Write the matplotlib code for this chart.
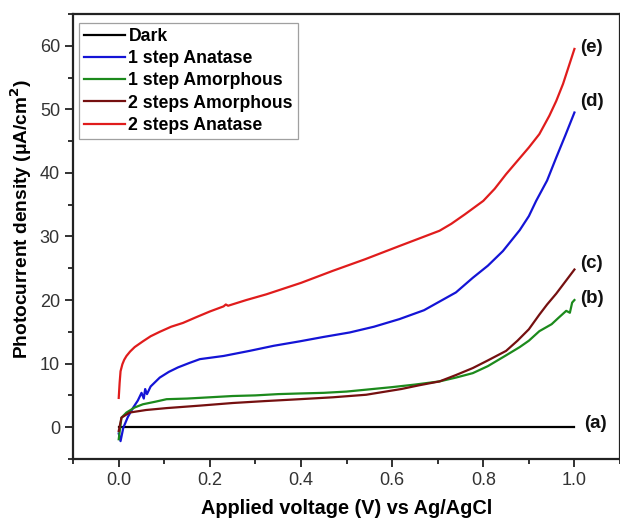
import numpy as np
import matplotlib
matplotlib.use("Agg")
import matplotlib.pyplot as plt
from matplotlib.ticker import MultipleLocator, FormatStrFormatter

plt.rcParams["font.family"] = ["Liberation Sans", "DejaVu Sans"]

# ─── Data (potential in V vs Ag/AgCl, current in µA/cm²) ────────────────────
V_DARK = [0.0, 1.0]
J_DARK = [0.0, 0.0]

V_ANA1 = [0.0, 0.004, 0.01, 0.02, 0.031, 0.042, 0.05, 0.055, 0.058, 0.062, 0.07,
          0.09, 0.11, 0.13, 0.155, 0.178, 0.23, 0.287, 0.34, 0.397, 0.45, 0.507,
          0.56, 0.616, 0.67, 0.70, 0.74, 0.777, 0.81, 0.843, 0.88, 0.90, 0.916,
          0.94, 0.96, 0.98, 1.0]
J_ANA1 = [-1.0, -2.2, -0.1, 1.6, 3.0, 4.2, 5.4, 4.5, 6.0, 5.2, 6.4,
          7.8, 8.7, 9.4, 10.1, 10.7, 11.2, 12.0, 12.8, 13.5, 14.2, 14.9,
          15.8, 17.0, 18.4, 19.6, 21.2, 23.5, 25.4, 27.7, 31.0, 33.2, 35.6,
          38.8, 42.4, 45.9, 49.5]

V_AMO1 = [0.0, 0.006, 0.017, 0.035, 0.053, 0.08, 0.105, 0.15, 0.2, 0.25, 0.3,
          0.35, 0.397, 0.45, 0.5, 0.543, 0.6, 0.65, 0.704, 0.74, 0.777, 0.81,
          0.85, 0.88, 0.90, 0.923, 0.95, 0.965, 0.982, 0.99, 0.995, 1.0]
J_AMO1 = [-1.9, 1.5, 2.3, 3.1, 3.6, 4.0, 4.4, 4.5, 4.7, 4.9, 5.0,
          5.2, 5.3, 5.4, 5.6, 5.9, 6.3, 6.7, 7.2, 7.8, 8.5, 9.6,
          11.3, 12.6, 13.6, 15.1, 16.2, 17.2, 18.3, 18.0, 19.6, 20.0]

V_AMO2 = [0.0, 0.006, 0.024, 0.06, 0.105, 0.18, 0.25, 0.32, 0.397, 0.47, 0.543,
          0.62, 0.66, 0.704, 0.74, 0.777, 0.81, 0.85, 0.875, 0.90, 0.923, 0.94,
          0.96, 0.98, 1.0]
J_AMO2 = [-0.6, 1.5, 2.3, 2.7, 3.0, 3.4, 3.8, 4.1, 4.4, 4.7, 5.1,
          6.0, 6.6, 7.2, 8.2, 9.3, 10.5, 12.0, 13.6, 15.4, 17.7, 19.3,
          21.0, 22.9, 24.8]

V_ANA2 = [0.0, 0.002, 0.004, 0.008, 0.012, 0.017, 0.025, 0.035, 0.053, 0.07,
          0.09, 0.115, 0.141, 0.17, 0.2, 0.23, 0.235, 0.24, 0.28, 0.324, 0.4,
          0.47, 0.54, 0.616, 0.66, 0.704, 0.73, 0.76, 0.8, 0.825, 0.85, 0.875,
          0.9, 0.923, 0.945, 0.96, 0.975, 0.99, 1.0]
J_ANA2 = [4.6, 7.0, 8.8, 9.9, 10.6, 11.2, 11.9, 12.6, 13.5, 14.3,
          15.0, 15.8, 16.4, 17.3, 18.2, 19.0, 19.3, 19.1, 20.0, 20.9, 22.7,
          24.6, 26.4, 28.5, 29.7, 30.9, 32.0, 33.5, 35.6, 37.5, 39.8, 41.9,
          44.0, 46.1, 49.0, 51.3, 54.0, 57.3, 59.5]

LABELS = ["Dark", "1 step Anatase", "1 step Amorphous",
          "2 steps Amorphous", "2 steps Anatase"]
TAGS = ["(a)", "(d)", "(b)", "(c)", "(e)"]
VOLTS = [V_DARK, V_ANA1, V_AMO1, V_AMO2, V_ANA2]
CURRENTS = [J_DARK, J_ANA1, J_AMO1, J_AMO2, J_ANA2]

COLORS = ["#000000", "#1414d6", "#1c8a1c", "#751010", "#e01c1c"]
TAG_DY = [0.5, 1.8, 0.2, 0.9, 0.2]     # small lift so tags sit beside line ends
TAG_DX = [0.022, 0.012, 0.012, 0.012, 0.012]

# ─── Figure ─────────────────────────────────────────────────────────────────
fig = plt.figure(figsize=(6.2, 5.18), dpi=100)
ax = fig.add_axes([0.118, 0.114, 0.882, 0.859])

for name, v, j, color, tag, dx, dy in zip(LABELS, VOLTS, CURRENTS, COLORS,
                                         TAGS, TAG_DX, TAG_DY):
    ax.plot(v, j, color=color, linewidth=1.6, label=name)
    ax.text(v[-1] + dx, j[-1] + dy, tag, fontsize=13.5, fontweight="bold",
            ha="left", va="center", color="#111111")

ax.set_xlim(-0.1, 1.1)
ax.set_ylim(-5, 65)
ax.xaxis.set_major_locator(MultipleLocator(0.2))
ax.xaxis.set_minor_locator(MultipleLocator(0.1))
ax.yaxis.set_major_locator(MultipleLocator(10))
ax.yaxis.set_minor_locator(MultipleLocator(5))
ax.xaxis.set_major_formatter(FormatStrFormatter("%.1f"))

ax.tick_params(which="both", direction="out", top=False, right=False,
               width=1.3, labelsize=13, colors="#222222", labelcolor="#333333")
ax.tick_params(which="major", length=6)
ax.tick_params(which="minor", length=3.5)
for sp in ax.spines.values():
    sp.set_linewidth(1.6)
    sp.set_color("#222222")

ax.set_xlabel("Applied voltage (V) vs Ag/AgCl", fontsize=14.3,
              fontweight="bold", labelpad=7)
ax.set_ylabel("Photocurrent density (\u03bcA/cm$^\\mathbf{2}$)", fontsize=13.8,
              fontweight="bold")
ax.yaxis.set_label_coords(-0.071, 0.54)

leg = ax.legend(loc="upper left", bbox_to_anchor=(0.005, 0.988),
                prop={"weight": "bold", "size": 12.7}, handlelength=2.3,
                handletextpad=0.2, labelspacing=0.3, borderpad=0.28,
                borderaxespad=0.2, fancybox=False, frameon=True)
leg.get_frame().set_edgecolor("#888888")
leg.get_frame().set_linewidth(0.9)

fig.savefig("out.png", dpi=100)
